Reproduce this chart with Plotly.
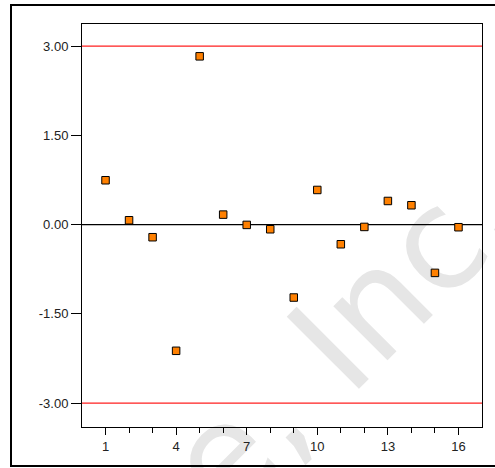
import plotly.graph_objects as go

# Data
runs = list(range(1, 17))
residuals = [0.745, 0.073, -0.212, -2.12, 2.827, 0.168, -0.005, -0.078,
             -1.225, 0.582, -0.33, -0.039, 0.397, 0.325, -0.811, -0.044]
limit_upper = 3.0
limit_lower = -3.0
y_tickvals = [-3.0, -1.5, 0.0, 1.5, 3.0]
y_ticktext = ["-3.00", "-1.50", "0.00", "1.50", "3.00"]
x_tickvals = [1, 4, 7, 10, 13, 16]
watermark = "Stat-Ease, Inc."

W, H = 495, 468
L, R, T, B = 82, 13, 24, 41
pw, ph = W - L - R, H - T - B

def px2paper(px, py):
    return (px - L) / pw, (H - B - py) / ph

fig = go.Figure()
fig.add_trace(go.Scatter(
    x=runs, y=residuals, mode="markers",
    marker=dict(symbol="square", size=7.5, color="#FF8000",
                line=dict(color="black", width=1)),
    showlegend=False, hoverinfo="x+y"))

shapes = []
# watermark (drawn below everything)
cx, cy = 129, 536
ax0, ay0 = px2paper(cx - 300, cy + 300)
ax1, ay1 = px2paper(cx + 300, cy - 300)
shapes.append(dict(type="line", xref="paper", yref="paper",
                   x0=ax0, y0=ay0, x1=ax1, y1=ay1, layer="below",
                   line=dict(width=0, color="rgba(0,0,0,0)"),
                   label=dict(text=watermark, textposition="middle",
                              textangle=-45, yanchor="middle", xanchor="center",
                              font=dict(size=140, color="#e6e6e6",
                                        family="DejaVu Sans, sans-serif"))))
for yv, col in [(limit_upper, "#ff2020"), (limit_lower, "#ff2020"), (0.0, "black")]:
    shapes.append(dict(type="line", xref="paper", yref="y", x0=0, x1=1,
                       y0=yv, y1=yv, layer="below",
                       line=dict(color=col, width=1.3 if col != "black" else 1.2)))
# outer frame
fx0, fy0 = px2paper(11, 466)
fx1, fy1 = px2paper(505, 5)
shapes.append(dict(type="rect", xref="paper", yref="paper",
                   x0=fx0, y0=fy0, x1=fx1, y1=fy1,
                   line=dict(color="black", width=2), fillcolor="rgba(0,0,0,0)",
                   layer="above"))

fig.update_layout(
    width=W, height=H,
    margin=dict(l=L, r=R, t=T, b=B, pad=0),
    paper_bgcolor="white", plot_bgcolor="white",
    font=dict(family="Liberation Sans, Arial, sans-serif", size=13, color="#222"),
    shapes=shapes,
    xaxis=dict(range=[0, 17], tickmode="array", tickvals=x_tickvals,
               ticktext=[str(v) for v in x_tickvals],
               ticks="outside", ticklen=7, tickcolor="black", tickwidth=1,
               minor=dict(tickmode="array", tickvals=runs, ticks="outside",
                          ticklen=5, tickcolor="black", tickwidth=1),
               showgrid=False, zeroline=False, showline=True, mirror=True,
               linecolor="black", linewidth=1),
    yaxis=dict(range=[-3.4, 3.37], tickmode="array", tickvals=y_tickvals,
               ticktext=y_ticktext, ticks="outside", ticklen=10,
               tickcolor="black", tickwidth=1,
               showgrid=False, zeroline=False, showline=True, mirror=True,
               linecolor="black", linewidth=1),
)

fig.write_html("out.html", config={"displayModeBar": False},
               post_script="document.body.style.margin='0';document.body.style.overflow='hidden';")
